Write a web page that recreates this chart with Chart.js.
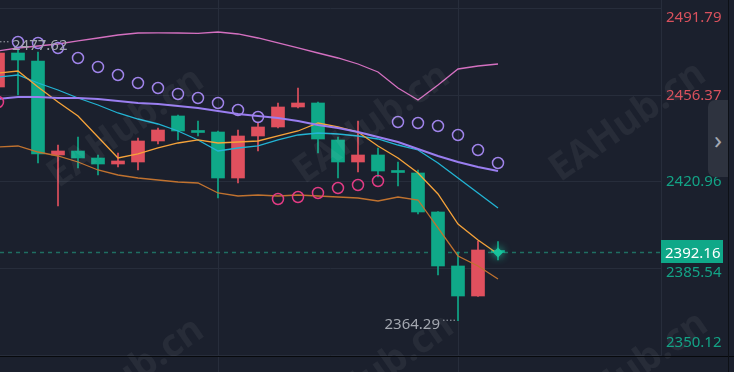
<!DOCTYPE html>
<html>
<head>
<meta charset="utf-8">
<script src="https://cdn.jsdelivr.net/npm/chart.js@4.4.1/dist/chart.umd.min.js"></script>
<style>
  html, body { margin: 0; padding: 0; background: #1b202d; overflow: hidden; }
  #wrap { position: relative; width: 734px; height: 372px; }
  #tab {
    position: absolute; left: 708px; top: 100px; width: 20px; height: 77px;
    background: #2e333f; border-radius: 7px 0 0 7px; color: #a3a8b2;
    font: 26px "Noto Sans"; display: flex; align-items: center; justify-content: center;
  }
</style>
</head>
<body>
<div id="wrap">
  <canvas id="kline" width="734" height="372"></canvas>
  <div id="tab">›</div>
</div>
<script>
// candles, oldest first (red = up, green = down)
const opens  = [2459.77, 2473.65, 2470.39, 2431.99, 2433.62, 2430.76, 2428.31, 2429.13, 2437.71, 2447.92, 2441.59, 2441.38, 2422.59, 2439.75, 2443.43, 2451.60, 2453.23, 2438.12, 2429.13, 2431.99, 2425.25, 2424.64, 2408.71, 2386.65, 2374.39, 2392.50];
const highs  = [2477.62, 2475.29, 2474.06, 2436.07, 2439.34, 2431.99, 2432.81, 2438.93, 2443.02, 2448.33, 2445.88, 2441.79, 2442.20, 2445.47, 2453.23, 2459.36, 2453.60, 2439.34, 2445.88, 2434.85, 2429.13, 2425.86, 2408.90, 2392.37, 2396.86, 2396.57];
const lows   = [2458.54, 2456.50, 2428.72, 2411.16, 2426.68, 2423.82, 2427.09, 2425.86, 2436.48, 2438.12, 2439.75, 2414.42, 2420.55, 2433.62, 2443.00, 2451.20, 2432.81, 2422.59, 2425.04, 2423.00, 2419.33, 2407.89, 2382.97, 2364.29, 2374.20, 2389.10];
const closes = [2473.65, 2470.79, 2432.40, 2433.62, 2430.76, 2428.31, 2429.54, 2437.71, 2442.20, 2441.79, 2441.18, 2422.59, 2439.75, 2443.43, 2451.60, 2453.23, 2438.52, 2429.13, 2431.99, 2425.45, 2424.84, 2408.71, 2386.65, 2374.39, 2393.18, 2392.16];

// indicator lines
const bollUpper = [2474.47, 2475.70, 2476.51, 2477.33, 2478.56, 2479.78, 2481.01, 2481.82, 2481.90, 2481.82, 2481.70, 2482.23, 2481.42, 2479.78, 2477.74, 2475.70, 2473.65, 2471.61, 2469.16, 2465.89, 2459.36, 2454.46, 2460.58, 2467.12, 2468.34, 2469.16];
const bollMid   = [2454.86, 2455.68, 2455.68, 2455.27, 2455.27, 2454.86, 2454.05, 2453.23, 2452.82, 2452.00, 2451.19, 2449.96, 2448.74, 2447.92, 2447.10, 2445.88, 2444.24, 2443.02, 2441.38, 2439.34, 2437.30, 2434.44, 2431.58, 2429.13, 2427.09, 2425.45];
const bollLower = [2435.26, 2435.67, 2433.21, 2431.58, 2429.13, 2425.86, 2423.82, 2422.59, 2421.78, 2420.96, 2420.55, 2416.47, 2415.24, 2415.65, 2415.24, 2415.65, 2415.24, 2414.83, 2414.42, 2413.20, 2414.83, 2413.61, 2402.17, 2390.73, 2386.65, 2381.34];
const maFast    = [2465.48, 2466.30, 2459.77, 2453.64, 2447.92, 2439.34, 2430.76, 2432.40, 2434.85, 2436.89, 2438.12, 2436.89, 2437.30, 2437.71, 2439.75, 2441.79, 2445.06, 2443.43, 2441.38, 2435.67, 2430.76, 2424.64, 2416.06, 2403.80, 2397.27, 2391.55];
const maSlow    = [2463.85, 2464.67, 2461.40, 2458.54, 2455.27, 2452.41, 2449.15, 2446.69, 2444.65, 2441.79, 2438.12, 2433.62, 2434.85, 2435.67, 2438.12, 2440.16, 2440.98, 2440.57, 2439.75, 2438.52, 2436.07, 2434.03, 2428.72, 2422.59, 2416.47, 2410.34];
const sar       = [2453.64, 2478.15, 2477.74, 2475.70, 2471.61, 2467.94, 2464.67, 2461.40, 2459.36, 2456.91, 2455.27, 2453.23, 2450.37, 2447.51, 2414.02, 2414.83, 2416.47, 2418.51, 2419.73, 2421.37, 2445.47, 2445.06, 2443.83, 2440.16, 2434.03, 2428.72];

// price axis
const tickValues = [2491.79, 2456.37, 2420.96, 2385.54, 2350.12];
const tickLabels = ['2491.79', '2456.37', '2420.96', '2385.54', '2350.12'];
const yMin = 2349.88, yMax = 2495.30;

const RED = '#e0505e', GREEN = '#0fa888', GRID = '#272d3b';
const last = closes.length - 1;
const lastPrice = closes[last];

function candleColor(i) { return closes[i] >= opens[i] ? RED : GREEN; }
function pts(arr) { return arr.map((v, i) => ({ x: i, y: v })); }

function lineSet(label, arr, color, width, order) {
    return { type: 'line', label: label, data: pts(arr), borderColor: color, borderWidth: width,
             pointRadius: 0, tension: 0, order: order };
}

const overlay = {
    id: 'overlay',
    beforeDatasetsDraw(chart) {
        const { ctx, chartArea: a, scales: { y } } = chart;
        const py = Math.round(y.getPixelForValue(lastPrice)) + 0.5;
        ctx.save();
        ctx.strokeStyle = '#1f6e62';
        ctx.lineWidth = 1.5;
        ctx.setLineDash([4, 4]);
        ctx.beginPath(); ctx.moveTo(a.left, py); ctx.lineTo(a.right, py); ctx.stroke();
        ctx.restore();
    },
    afterDatasetsDraw(chart) {
        const { ctx, scales: { x, y } } = chart;
        // glow on the live candle
        const gx = x.getPixelForValue(last), gy = y.getPixelForValue(lastPrice);
        ctx.save();
        ctx.shadowColor = '#1de0b0'; ctx.shadowBlur = 8;
        ctx.fillStyle = '#17c49c';
        ctx.beginPath();
        ctx.moveTo(gx, gy - 5); ctx.lineTo(gx + 5, gy); ctx.lineTo(gx, gy + 5); ctx.lineTo(gx - 5, gy);
        ctx.closePath(); ctx.fill();
        ctx.restore();
        // watermark
        ctx.save();
        ctx.font = 'bold 38px "Noto Sans"';
        ctx.fillStyle = 'rgba(255,255,255,0.055)';
        ctx.textAlign = 'center'; ctx.textBaseline = 'middle';
        [[126, 128], [372, 124], [628, 122], [126, 378], [376, 374], [630, 372]].forEach(([px, py]) => {
            ctx.save(); ctx.translate(px, py); ctx.rotate(-35 * Math.PI / 180);
            ctx.fillText('EAHub.cn', 0, 0); ctx.restore();
        });
        ctx.restore();
    },
    afterDraw(chart) {
        const { ctx, chartArea: a, scales: { x, y } } = chart;
        ctx.save();
        ctx.font = '15px "Noto Sans"';
        ctx.textBaseline = 'middle';

        // high / low marks
        const hi = highs.indexOf(Math.max(...highs));
        const lo = lows.indexOf(Math.min(...lows));
        ctx.fillStyle = '#a3a7b0'; ctx.strokeStyle = '#a3a7b0';
        ctx.lineWidth = 1; ctx.setLineDash([1.5, 2]);
        let hx = x.getPixelForValue(hi), hy = y.getPixelForValue(highs[hi]);
        ctx.beginPath(); ctx.moveTo(hx + 2, hy - 1.5); ctx.lineTo(hx + 12, hy - 1.5); ctx.stroke();
        ctx.textAlign = 'left'; ctx.fillText(highs[hi].toFixed(2), hx + 14, hy + 2);
        let lx = x.getPixelForValue(lo), ly = y.getPixelForValue(lows[lo]);
        ctx.beginPath(); ctx.moveTo(lx - 15, ly - 0.5); ctx.lineTo(lx - 1, ly - 0.5); ctx.stroke();
        ctx.textAlign = 'right'; ctx.fillText(lows[lo].toFixed(2), lx - 18, ly + 4);
        ctx.setLineDash([]);

        // price axis labels
        const pp = y.getPixelForValue(lastPrice);
        const mid = (yMin + yMax) / 2;
        ctx.textAlign = 'left';
        y.ticks.forEach((t, i) => {
            let py = y.getPixelForValue(t.value);
            py = Math.max(a.top + 18, Math.min(a.bottom - 13, py));
            if (Math.abs(py - pp) < 20) py = pp + (py > pp ? 20 : -20);
            ctx.fillStyle = t.value > mid ? '#d9515d' : '#13a386';
            ctx.fillText(tickLabels[i], a.right + 5, py);
        });

        // live price box
        ctx.fillStyle = GREEN;
        ctx.fillRect(a.right, Math.round(pp) - 12, 62, 23);
        ctx.fillStyle = '#ffffff';
        ctx.fillText(lastPrice.toFixed(2), a.right + 4, pp + 1);

        // frame lines
        ctx.fillStyle = '#07090c';
        ctx.fillRect(0, a.bottom, chart.width, 1);
        ctx.fillStyle = '#0d1016';
        ctx.fillRect(728, 0, 1, chart.height);
        ctx.restore();
    }
};

Chart.defaults.font.family = '"Noto Sans"';

new Chart(document.getElementById('kline'), {
    type: 'bar',
    data: {
        datasets: [
            { label: 'wick', data: lows.map((l, i) => ({ x: i, y: [l, highs[i]] })),
              backgroundColor: opens.map((o, i) => candleColor(i)),
              barThickness: 1, grouped: false, order: 20 },
            { label: 'body', data: opens.map((o, i) => ({ x: i, y: [o, closes[i]] })),
              backgroundColor: opens.map((o, i) => candleColor(i)),
              barThickness: 13, minBarLength: 2, grouped: false, order: 19 },
            lineSet('BOLL LB', bollLower, '#c0722f', 1.3, 6),
            lineSet('BOLL UB', bollUpper, '#d470c0', 1.3, 5),
            lineSet('MA10', maSlow, '#22b4d4', 1.3, 4),
            lineSet('MA5', maFast, '#f6a33a', 1.3, 3),
            lineSet('BOLL', bollMid, '#9a7ef0', 2, 2),
            { type: 'line', label: 'SAR', data: pts(sar), showLine: false, order: 0,
              pointRadius: 5.5, pointBorderWidth: 1.5, pointBackgroundColor: 'rgba(0,0,0,0)',
              pointBorderColor: sar.map((v, i) => v > closes[i] ? '#a084ea' : '#e23b84') }
        ]
    },
    options: {
        responsive: false,
        animation: false,
        events: [],
        devicePixelRatio: 1,
        layout: { padding: 0, autoPadding: false },
        plugins: { legend: { display: false }, tooltip: { enabled: false } },
        scales: {
            x: {
                type: 'linear', min: 0.1, max: 33.15, offset: false,
                afterBuildTicks: s => { s.ticks = [{ value: 11 }, { value: 23 }]; },
                afterFit: s => { s.height = 16; },
                grid: { color: GRID, offset: false, drawTicks: true, tickLength: 16 },
                border: { display: false },
                ticks: { display: false }
            },
            y: {
                position: 'right', min: yMin, max: yMax, beginAtZero: false,
                afterBuildTicks: s => { s.ticks = tickValues.map(v => ({ value: v })); },
                afterFit: s => { s.width = 73; },
                grid: { color: GRID, drawTicks: false },
                border: { color: GRID },
                ticks: { display: false }
            }
        }
    },
    plugins: [overlay]
});
</script>
</body>
</html>
